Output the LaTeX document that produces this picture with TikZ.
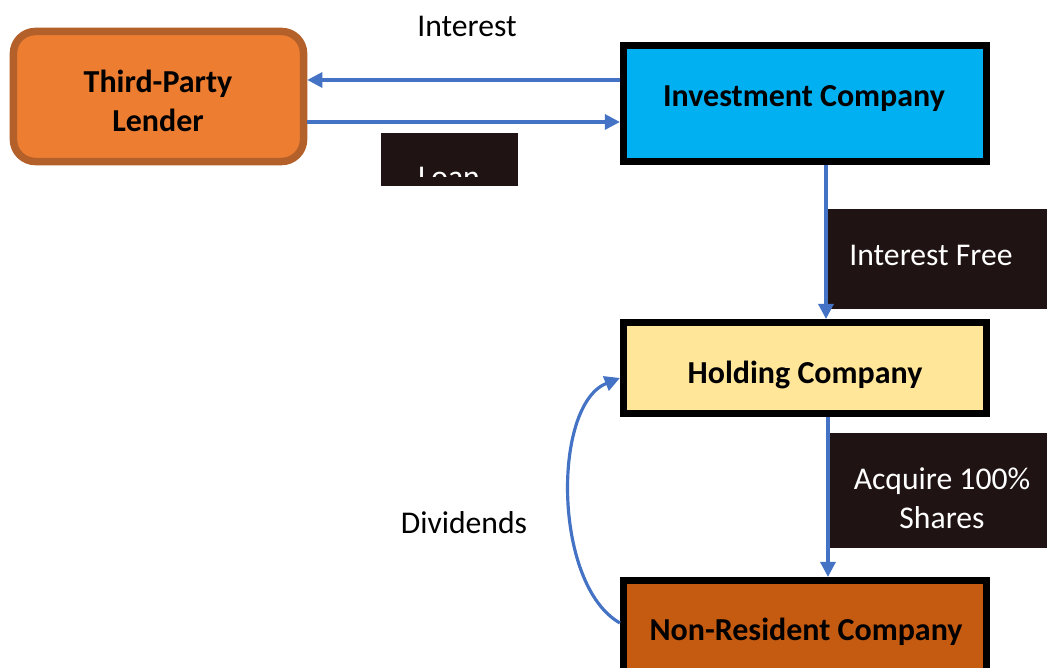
\documentclass[tikz,border=0pt]{standalone}
\usepackage{fontspec}
\setmainfont{Carlito}
\usetikzlibrary{arrows.meta}
\definecolor{lendfill}{HTML}{ED7D31}
\definecolor{lenddraw}{HTML}{B4602A}
\definecolor{invfill}{HTML}{00B0F0}
\definecolor{holdfill}{HTML}{FFE699}
\definecolor{nrfill}{HTML}{C55A11}
\definecolor{arrowblue}{HTML}{4472C4}
\definecolor{darkbox}{HTML}{201313}
\tikzset{
  company/.style={draw=black, line width=2.13pt, inner sep=0pt},
  boxtext/.style={font=\bfseries\fontsize{9.1}{11}\selectfont, inner sep=0pt, anchor=base},
  flow/.style={draw=arrowblue, line width=0.9pt, -{Triangle[length=4.3pt,width=4.3pt]}},
  darkbg/.style={fill=darkbox, inner sep=0pt},
  plainlabel/.style={font=\fontsize{9}{11}\selectfont, inner sep=0pt, anchor=base}
}
\begin{document}
\begin{tikzpicture}[x=0.01cm,y=-0.01cm]
\useasboundingbox (0,0) rectangle (1047,668);
\fill[white] (0,0) rectangle (1047,668);
\begin{scope}
\clip (0,0) rectangle (1047,668);
% boxes
\node[company, fill=lendfill, draw=lenddraw, rounded corners=0.22cm, minimum width=2.90cm, minimum height=1.30cm] (lender) at (158.5,96.5) {};
\node[company, fill=invfill, minimum width=3.625cm, minimum height=1.155cm] (inv) at (805,103.5) {};
\node[company, fill=holdfill, minimum width=3.625cm, minimum height=0.905cm] (hold) at (805,368) {};
\node[company, fill=nrfill, minimum width=3.625cm, minimum height=1.155cm] (nr) at (805,638.5) {};
% box texts
\node[boxtext] (lendtxta) at (158,93) {Third-Party};
\node[boxtext] (lendtxtb) at (158,132) {Lender};
\node[boxtext] (invtxt) at (804,107) {Investment Company};
\node[boxtext] (holdtxt) at (805,384) {Holding Company};
\node[boxtext] (nrtxt) at (806,641) {Non-Resident Company};
% dark label boxes
\node[darkbg, minimum width=1.37cm, minimum height=0.53cm] (loanbox) at (449.5,159.5) {};
\begin{scope}
\clip (381,133) rectangle (518,177);
\node[plainlabel, text=white] (loantxt) at (449,188) {Loan};
\end{scope}
\node[darkbg, minimum width=2.40cm, minimum height=1.00cm] (ifbox) at (948,259) {};
\node[plainlabel, text=white] (iftxt) at (931,266) {Interest Free};
\node[darkbg, minimum width=2.40cm, minimum height=1.15cm] (acqbox) at (950,490.5) {};
\node[plainlabel, text=white] (acqtxta) at (942,490) {Acquire 100\%};
\node[plainlabel, text=white] (acqtxtb) at (942,529) {Shares};
% plain labels
\node[plainlabel] (interest) at (467,37) {Interest};
\node[plainlabel] (dividends) at (464,534) {Dividends};
% connectors
\draw[flow] (inv.west |- 0,80) -- (lender.east |- 0,80);
\draw[flow] (lender.east |- 0,122) -- (inv.west |- 0,122);
\draw[flow] (inv.south -| 826,0) -- (hold.north -| 826,0);
\draw[flow] (hold.south -| 828,0) -- (nr.north -| 828,0);
\draw[flow] (nr.west |- 0,623) .. controls (553,585) and (552,405) .. (hold.west |- 0,378);
\end{scope}
\end{tikzpicture}
\end{document}
